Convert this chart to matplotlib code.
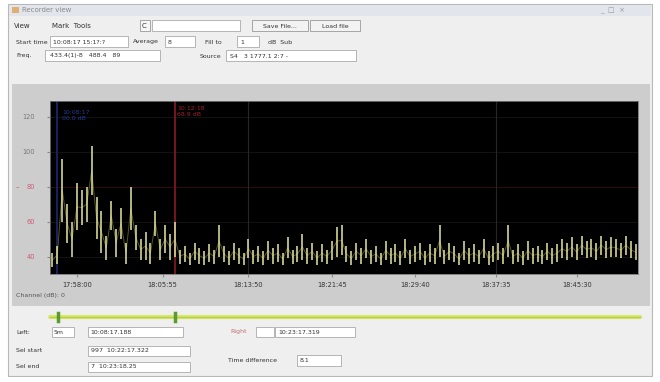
import matplotlib
matplotlib.use("Agg")
import matplotlib.pyplot as plt
from matplotlib.patches import Rectangle

# ---------------- data ----------------
sample_hi = [42, 46, 96, 70, 60, 82, 78, 80, 103, 74, 66, 52, 72, 56, 68, 48, 80, 58, 50, 54,
             48, 66, 50, 58, 53, 60,
             44, 46, 42, 48, 45, 43, 47, 44, 58, 46,
             43, 48, 45, 42, 50, 44, 46, 43, 49, 45,
             47, 42, 51, 44, 46, 53, 45, 48, 43, 47,
             44, 49, 57, 58, 46, 43, 48, 45, 50, 44,
             46, 42, 49, 45, 47, 43, 50, 44, 46, 48,
             43, 47, 45, 58, 44, 48, 46, 42, 49, 45,
             47, 44, 50, 43, 46, 48, 45, 58, 44, 47,
             43, 49, 45, 46, 44, 48, 45, 47, 50, 48,
             51, 47, 52, 49, 50, 48, 52, 49, 51, 50,
             48, 52, 49, 47]
sample_lo = [34, 36, 60, 48, 40, 55, 58, 60, 75, 50, 42, 38, 55, 40, 50, 36, 55, 44, 38, 38,
             36, 52, 38, 42, 38, 40,
             36, 37, 35, 38, 36, 35, 37, 36, 40, 37,
             35, 38, 36, 35, 39, 36, 37, 35, 38, 36,
             37, 35, 39, 36, 37, 38, 36, 38, 35, 37,
             36, 38, 40, 41, 37, 35, 38, 36, 39, 36,
             37, 35, 38, 36, 37, 35, 39, 36, 37, 38,
             35, 37, 36, 40, 36, 38, 37, 35, 38, 36,
             37, 36, 39, 35, 37, 38, 36, 40, 36, 37,
             35, 38, 36, 37, 36, 38, 36, 37, 39, 38,
             40, 38, 41, 39, 40, 38, 41, 39, 40, 40,
             39, 41, 39, 38]
x_tick_pos = [5, 22.5, 40, 57, 74, 90.5, 107]
x_tick_labels = ["17:58:00", "18:05:55", "18:13:50", "18:21:45", "18:29:40", "18:37:35", "18:45:30"]
y_ticks = [40, 60, 80, 100, 120]
y_tick_labels = ["40", "60", "80", "100", "120"]
cursor_left = 1.0
cursor_right = 25.0

# ---------------- figure ----------------
W, H = 660, 382
fig = plt.figure(figsize=(W / 100, H / 100), dpi=100)
fig.patch.set_facecolor("white")

bg = fig.add_axes([0, 0, 1, 1])
bg.set_xlim(0, W)
bg.set_ylim(H, 0)
bg.axis("off")

def rect(x, y, w, h, fc, ec="none", lw=0.6, z=1):
    bg.add_patch(Rectangle((x, y), w, h, facecolor=fc, edgecolor=ec, linewidth=lw, zorder=z))

def txt(x, y, s, size=5, color="#333333", **kw):
    bg.text(x, y, s, fontsize=size, color=color, va="center", ha=kw.pop("ha", "left"), zorder=5, **kw)

# window frame
rect(8, 4, 644, 372, "#efefef", ec="#b8b8b8", lw=0.8)
rect(9, 5, 642, 11, "#e2e6ec")
txt(22, 10.5, "Recorder view", size=5, color="#8a8a8a")
txt(600, 10.5, "_  \u25a1  \u00d7", size=5, color="#9a9a9a")
rect(12, 7, 7, 6, "#e0b070")

# toolbar row
txt(14, 26, "View", size=5)
txt(52, 26, "Mark  Tools", size=5)
rect(140, 20, 10, 11, "#f6f6f6", ec="#999999")
txt(142, 26, "C", size=5)
rect(152, 20, 88, 11, "white", ec="#aaaaaa")
rect(252, 20, 56, 11, "#f3f3f3", ec="#999999")
txt(280, 26, "Save File...", size=4.5, ha="center")
rect(310, 20, 50, 11, "#f3f3f3", ec="#999999")
txt(335, 26, "Load file", size=4.5, ha="center")

# row 2
txt(16, 42, "Start time", size=4.5)
rect(50, 36, 78, 11, "white", ec="#aaaaaa")
txt(53, 42, "10:08:17 15:1?:?", size=4.5)
txt(133, 42, "Average", size=4.5)
rect(165, 36, 30, 11, "white", ec="#aaaaaa")
txt(168, 42, "8", size=4.5)
txt(205, 42, "Fill to", size=4.5)
rect(237, 36, 22, 11, "white", ec="#aaaaaa")
txt(240, 42, "1", size=4.5)
txt(268, 42, "dB  Sub", size=4.5)

# row 3
txt(16, 56, "Freq.", size=4.5)
rect(45, 50, 115, 11, "white", ec="#aaaaaa")
txt(50, 56, "433.4(1)-8   488.4   89", size=4.5)
txt(200, 56, "Source", size=4.5)
rect(226, 50, 130, 11, "white", ec="#aaaaaa")
txt(230, 56, "S4   3 1777.1 2:7 -", size=4.5)

# gray chart panel
rect(12, 84, 638, 222, "#cdcdcd")
txt(16, 296, "Channel (dB): 0", size=4.5, color="#555555")
txt(16, 187, "\u2013", size=5, color="#d04060")

# slider
bg.plot([50, 640], [317, 317], color="#d8e870", lw=3, zorder=3, solid_capstyle="round")
bg.plot([50, 640], [317, 317], color="#b8d040", lw=1, zorder=3)
bg.plot([58, 58], [313, 321], color="#5a9a30", lw=2.5, zorder=4)
bg.plot([175, 175], [313, 321], color="#5a9a30", lw=2.5, zorder=4)

# form rows
txt(16, 332, "Left:", size=4.5)
rect(52, 327, 22, 10, "white", ec="#aaaaaa")
txt(54, 332, "5m", size=4.5)
rect(88, 327, 95, 10, "white", ec="#aaaaaa")
txt(90, 332, "10:08:17.188", size=4.5)
txt(230, 332, "Right", size=4.5, color="#c07070")
rect(256, 327, 18, 10, "white", ec="#aaaaaa")
rect(275, 327, 80, 10, "white", ec="#aaaaaa")
txt(278, 332, "10:23:17.319", size=4.5)
txt(16, 351, "Sel start", size=4.5)
rect(88, 346, 102, 10, "white", ec="#aaaaaa")
txt(91, 351, "997  10:22:17.322", size=4.5)
txt(16, 367, "Sel end", size=4.5)
rect(88, 362, 102, 10, "white", ec="#aaaaaa")
txt(91, 367, "7  10:23:18.25", size=4.5)
txt(228, 361, "Time difference", size=4.5)
rect(297, 355, 44, 11, "white", ec="#aaaaaa")
txt(300, 360.5, "8.1", size=4.5)

# ---------------- main plot ----------------
ax = fig.add_axes([50 / W, 1 - 274 / H, 588 / W, 173 / H])
ax.set_facecolor("black")
n = len(sample_hi)
xs = list(range(n))
ax.set_xlim(-0.5, n - 0.5)
ax.set_ylim(30, 129)

for v in y_ticks:
    ax.axhline(v, color="#2a0c0c" if v == 80 else "#121212", lw=0.8, zorder=1)
for xp in [40, 90.5]:
    ax.axvline(xp, color="#262626", lw=0.8, zorder=1)

ax.axvline(cursor_left, color="#1c2a70", lw=1.2, zorder=2)
ax.axvline(cursor_right, color="#8a1a22", lw=1.2, zorder=2)
ax.text(cursor_left + 1, 124, "10:08:17\n00.0 dB", fontsize=4.5, color="#233a90", va="top")
ax.text(cursor_right + 0.5, 126, "10:12:18\n68.9 dB", fontsize=4.5, color="#a02030", va="top")

mids = [(a + b) / 2 for a, b in zip(sample_hi, sample_lo)]
ax.plot(xs, mids, color="#55552a", lw=0.7, zorder=3)
ax.vlines(xs, sample_lo, sample_hi, color="#e6e6a0", lw=1.1, zorder=4)

ax.set_xticks(x_tick_pos)
ax.set_xticklabels(x_tick_labels, fontsize=4.8, color="#333333")
ax.set_yticks(y_ticks)
ax.set_yticklabels(y_tick_labels, fontsize=4.8)
for lab, v in zip(ax.get_yticklabels(), y_ticks):
    lab.set_color("#d05a78" if v <= 80 else "#777777")
ax.tick_params(axis="both", length=2, color="#888888")
ax.tick_params(axis="x", pad=4)
ax.tick_params(axis="y", pad=9)
for s in ax.spines.values():
    s.set_color("#777777")
    s.set_linewidth(0.6)

fig.savefig("out.png", dpi=100, facecolor=fig.get_facecolor())
